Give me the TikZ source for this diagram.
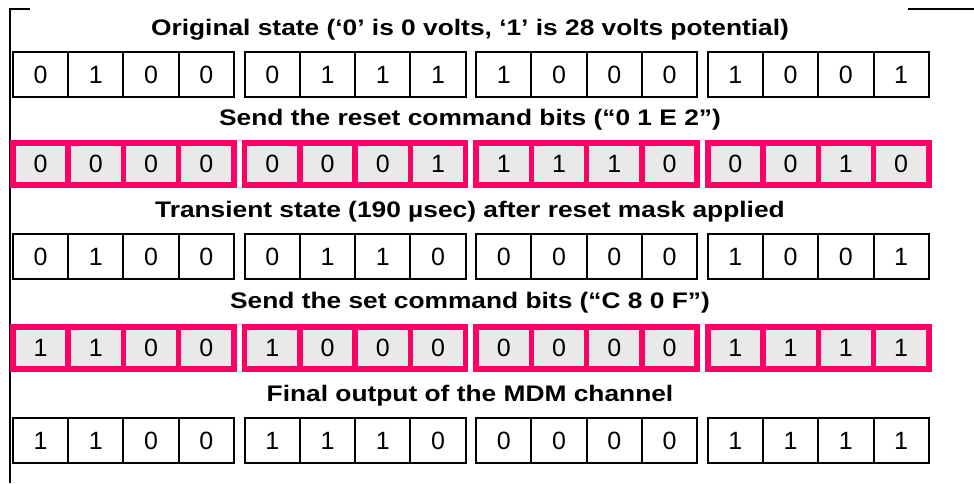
\documentclass[tikz,border=0pt]{standalone}
\usepackage{fontspec}
\setmainfont{Liberation Sans}
\newfontfamily\capfont{Liberation Sans Bold}[FakeStretch=1.17]
\definecolor{maskpink}{HTML}{FF0066}
\definecolor{cellgray}{HTML}{E9E9E9}

\begin{document}
\begin{tikzpicture}[x=1pt,y=-1pt,
  bit/.style={draw,line width=2pt,minimum width=55.25pt,minimum height=45pt,inner sep=0pt,font=\fontsize{25}{25}\selectfont},
  maskbit/.style={bit,draw=maskpink,fill=cellgray,line width=5.5pt,minimum height=42pt},
  caption/.style={font=\capfont\fontsize{22.5}{22.5}\selectfont}]
\useasboundingbox (0,0) rectangle (974,483);
% frame
\draw[line width=2pt] (30,9) -| (10,483);
\draw[line width=2pt] (908,9) -- (974,9);
% original state
\node[caption] (t1) at (470,29.5) {Original state (‘0’ is 0 volts, ‘1’ is 28 volts potential)};
\foreach \b [count=\c from 0] in {0,1,0,0,0,1,1,1,1,0,0,0,1,0,0,1}
  \node[bit] (a\c) at ({40.6+231.6*int(\c/4)+55.25*mod(\c,4)},74.5) {\b};
% reset mask
\node[caption] (t2) at (470,120) {Send the reset command bits (“0 1 E 2”)};
\foreach \b [count=\c from 0] in {0,0,0,0,0,0,0,1,1,1,1,0,0,0,1,0}
  \node[maskbit] (b\c) at ({40.6+231.6*int(\c/4)+55.25*mod(\c,4)},164) {\b};
% transient state
\node[caption] (t3) at (470,211.5) {Transient state (190 µsec) after reset mask applied};
\foreach \b [count=\c from 0] in {0,1,0,0,0,1,1,0,0,0,0,0,1,0,0,1}
  \node[bit] (c\c) at ({40.6+231.6*int(\c/4)+55.25*mod(\c,4)},256.5) {\b};
% set mask
\node[caption] (t4) at (470,303) {Send the set command bits (“C 8 0 F”)};
\foreach \b [count=\c from 0] in {1,1,0,0,1,0,0,0,0,0,0,0,1,1,1,1}
  \node[maskbit] (d\c) at ({40.6+231.6*int(\c/4)+55.25*mod(\c,4)},348) {\b};
% final output
\node[caption] (t5) at (470,395.5) {Final output of the MDM channel};
\foreach \b [count=\c from 0] in {1,1,0,0,1,1,1,0,0,0,0,0,1,1,1,1}
  \node[bit] (e\c) at ({40.6+231.6*int(\c/4)+55.25*mod(\c,4)},440.5) {\b};
\end{tikzpicture}
\end{document}
